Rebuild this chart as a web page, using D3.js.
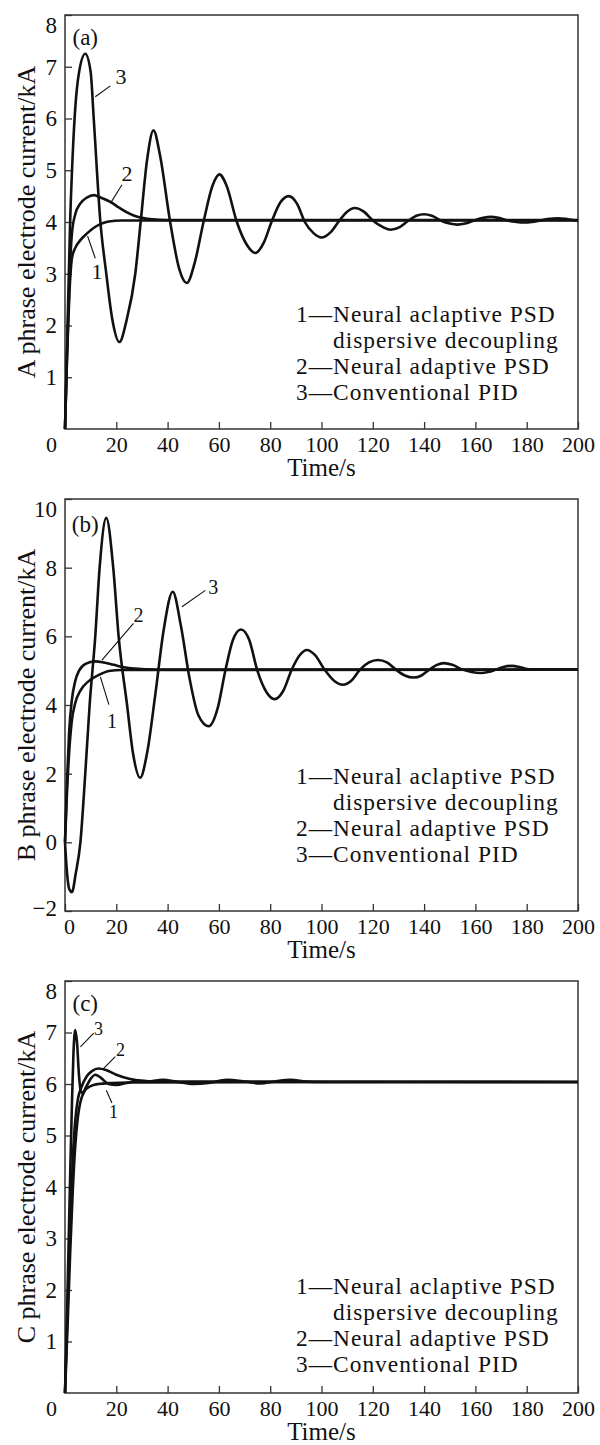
<!DOCTYPE html>
<html>
<head>
<meta charset="utf-8">
<script src="https://cdn.jsdelivr.net/npm/d3@7/dist/d3.min.js"></script>
<style>
  body { margin: 0; background: #fff; }
  text { font-family: "Liberation Serif", "Times New Roman", serif; fill: #111; }
</style>
</head>
<body>
<div id="chart"></div>
<script>
// time axis (s)
const timeTicks = [0, 20, 40, 60, 80, 100, 120, 140, 160, 180, 200];
const yTicksA = [1, 2, 3, 4, 5, 6, 7, 8];
const yTicksB = [-2, 0, 2, 4, 6, 8, 10];
const yTicksC = [1, 2, 3, 4, 5, 6, 7, 8];

const legendLines = [
  ["1", "Neural aclaptive PSD"],
  ["", "dispersive decoupling"],
  ["2", "Neural adaptive PSD"],
  ["3", "Conventional PID"]
];

// (a) A phrase, [t, kA]
const a1 = [[0,0],[0.8,1.4],[1.7,2.6],[2.7,3.3],[4,3.5],[6,3.65],[8.6,3.78],[11,3.88],[13.8,3.96],[17,4.01],[22,4.03],[200,4.03]];
const a2 = [[0,0],[1,1.8],[2,3.2],[2.7,3.78],[4,4.15],[6,4.36],[8.5,4.47],[11.2,4.52],[14,4.47],[17.7,4.39],[21,4.28],[24,4.19],[27,4.12],[30,4.08],[34,4.05],[40,4.04],[200,4.04]];
const a3 = [[0,0],[1,2.0],[2,4.0],[3,5.3],[4,6.2],[5.5,6.9],[7.9,7.25],[10,6.9],[11.2,6.0],[13.8,4.0],[16.1,3.0],[18.5,2.1],[21.2,1.68],[24,2.1],[27.4,3.0],[29.5,4.0],[32,5.2],[34.5,5.77],[37,5.3],[41,4.0],[44.5,3.1],[47.5,2.82],[50.5,3.2],[54,4.0],[57.5,4.7],[60.2,4.92],[63,4.7],[67,4.0],[71,3.55],[74.2,3.4],[77.5,3.6],[80.5,4.0],[84,4.38],[87.2,4.5],[90.5,4.35],[93.5,4.0],[97,3.78],[100,3.7],[103.5,3.8],[107,4.03],[110,4.2],[113,4.27],[116.5,4.2],[120,4.03],[124,3.9],[127,3.85],[130.5,3.9],[134,4.03],[137,4.12],[140,4.15],[143,4.12],[146.5,4.03],[150,3.97],[153,3.95],[156,3.97],[159.5,4.03],[163,4.08],[166,4.1],[169,4.08],[172.5,4.03],[176,4.0],[179,3.99],[182,4.0],[185.5,4.03],[189,4.06],[192,4.07],[195,4.06],[198,4.04],[200,4.03]];

// (b) B phrase
const b1 = [[0,0],[0.8,1.5],[1.6,2.6],[2.6,3.5],[4,4.06],[6,4.42],[9,4.68],[12.5,4.85],[17.7,5.0],[22,5.02],[200,5.03]];
const b2 = [[0,0],[0.8,1.8],[1.6,3.2],[2.6,4.1],[4,4.7],[5.5,5.0],[8,5.2],[11.8,5.27],[15,5.24],[19,5.17],[23,5.1],[27,5.06],[32,5.04],[38,5.03],[200,5.03]];
const b3 = [[0,0],[0.8,-0.9],[1.6,-1.35],[2.7,-1.45],[4.2,-0.9],[6,0.0],[7.9,2.0],[9.6,4.0],[11.8,6.0],[13.5,8.0],[16.1,9.45],[18.8,8.0],[20.9,6.0],[24.2,4.0],[26.5,2.6],[29.3,1.88],[32,2.6],[35.2,4.3],[38.5,6.2],[42,7.3],[45.2,6.3],[48.5,4.8],[52,3.7],[56,3.38],[59.5,3.9],[62.5,5.0],[65.5,5.9],[68.6,6.2],[71.8,5.9],[75,5.0],[78.5,4.38],[81.8,4.17],[85,4.4],[88.5,5.05],[91.5,5.45],[94.3,5.6],[97.5,5.45],[101,5.05],[105,4.7],[108.4,4.59],[111.5,4.7],[115,5.03],[118.5,5.24],[122,5.31],[125.5,5.24],[129,5.03],[132.5,4.86],[136,4.8],[139,4.86],[142,5.03],[145,5.17],[147.6,5.22],[151,5.17],[155,5.03],[158.5,4.96],[162,4.93],[165,4.96],[168,5.03],[171,5.11],[174.3,5.14],[177.5,5.1],[181,5.04],[200,5.03]];

// (c) C phrase
const c1 = [[0,0],[1,1.3],[2,2.7],[3,3.9],[4,4.8],[5,5.35],[6,5.65],[7.5,5.85],[10,5.96],[13,6.0],[18,6.02],[25,6.03],[200,6.04]];
const c2 = [[0,0],[1,1.6],[2,3.2],[3,4.5],[4,5.3],[5,5.7],[6.5,5.95],[8.5,6.15],[10.5,6.25],[13.1,6.3],[16,6.27],[20,6.18],[25,6.1],[30,6.06],[36,6.05],[200,6.04]];
const c3 = [[0,0],[1,2.0],[2,4.2],[2.7,5.6],[3.3,6.6],[4,7.05],[4.7,6.8],[5.4,6.2],[6.1,5.88],[6.8,5.82],[8,5.92],[10,6.1],[11.8,6.18],[14,6.12],[17,6.0],[20,5.98],[24,6.02],[28,6.06],[33,6.05],[38,6.08],[44,6.04],[50,6.0],[56,6.02],[63,6.08],[70,6.05],[76,6.01],[82,6.05],[88,6.08],[94,6.05],[100,6.04],[200,6.04]];

// curve number callouts: [label, labelT, labelV, fromT, fromV, toT, toV]
const notesA = [["3",21.8,6.82,11.8,6.42,17.7,6.63],["2",24.2,4.94,17.7,4.36,22.2,4.72],["1",12.5,3.04,8.8,3.73,11.8,3.3]];
const notesB = [["3",57.8,7.44,45.6,6.86,54.7,7.34],["2",28.7,6.62,14.4,5.31,26.7,6.38],["1",18.3,3.52,13.8,4.82,17.1,4.01]];
const notesC = [["3",13.1,7.08,6.0,6.72,11.2,6.99],["2",21.6,6.66,15.0,6.3,19.6,6.53],["1",18.9,5.46,16.1,5.88,18.3,5.63]];

const W = 600, H = 1445;
const left = 65, right = 578;

const svg = d3.select("#chart").append("svg")
  .attr("width", W).attr("height", H);
svg.append("rect").attr("width", W).attr("height", H).attr("fill", "#fff");

function drawPanel(p) {
  const x = d3.scaleLinear().domain([0, 200]).range([left, right]);
  const y = d3.scaleLinear().domain(p.domain).range([p.bottom, p.top]);
  const g = svg.append("g");

  // x axis, ticks pointing inward
  const gx = g.append("g")
    .attr("transform", "translate(0," + p.bottom + ")")
    .call(d3.axisBottom(x).tickValues(timeTicks).tickSizeInner(-7).tickSizeOuter(0).tickPadding(7));
  gx.select(".domain").remove();
  gx.selectAll("text").style("font-size", "22px").style("font-family", null);
  gx.selectAll("line").attr("stroke", "#333").attr("stroke-width", 1.3);
  gx.selectAll(".tick").filter(d => d === 0).select("text").attr("x", p.zeroShift);

  // y axis
  const gy = g.append("g")
    .attr("transform", "translate(" + left + ",0)")
    .call(d3.axisLeft(y).tickValues(p.yTicks).tickSizeInner(-7).tickSizeOuter(0).tickPadding(8));
  gy.select(".domain").remove();
  gy.selectAll("text").style("font-size", "23px").style("font-family", null);
  gy.selectAll("line").attr("stroke", "#333").attr("stroke-width", 1.3);
  gy.selectAll(".tick").filter(d => d === p.domain[1]).select("text").attr("y", 10);
  gy.selectAll(".tick").filter(d => d === p.domain[0]).select("text").attr("y", -3);

  // frame
  g.append("rect")
    .attr("x", left).attr("y", p.top)
    .attr("width", right - left).attr("height", p.bottom - p.top)
    .attr("fill", "none").attr("stroke", "#333").attr("stroke-width", 1.5);

  // curves
  const line = d3.line().x(d => x(d[0])).y(d => y(d[1])).curve(d3.curveMonotoneX);
  g.selectAll(".curve").data(p.series).enter().append("path")
    .attr("class", "curve")
    .attr("d", line)
    .attr("fill", "none").attr("stroke", "#111")
    .attr("stroke-width", 2.6).attr("stroke-linejoin", "round");

  // callouts
  p.notes.forEach(n => {
    g.append("line")
      .attr("x1", x(n[3])).attr("y1", y(n[4]))
      .attr("x2", x(n[5])).attr("y2", y(n[6]))
      .attr("stroke", "#111").attr("stroke-width", 1.1);
    g.append("text")
      .attr("x", x(n[1])).attr("y", y(n[2])).attr("dy", "0.35em")
      .attr("text-anchor", "middle").style("font-size", p.noteSize + "px")
      .text(n[0]);
  });

  // panel tag
  g.append("text").attr("x", x(p.tag[1])).attr("y", y(p.tag[2])).attr("dy", "0.35em")
    .attr("text-anchor", "middle").style("font-size", "23px").text(p.tag[0]);

  // axis titles
  g.append("text")
    .attr("x", (left + right) / 2).attr("y", p.bottom + 47)
    .attr("text-anchor", "middle").style("font-size", "25px").text("Time/s");
  g.append("text")
    .attr("transform", "translate(35," + (p.top + p.bottom) / 2 + ") rotate(-90)")
    .attr("text-anchor", "middle").style("font-size", "26px").text(p.yTitle);

  // legend, one text per row
  legendLines.forEach((l, i) => {
    g.append("text")
      .attr("x", l[0] ? 296 : 333).attr("y", p.legendY + i * 26)
      .style("font-size", "23.4px").style("letter-spacing", "1px")
      .text(l[0] ? l[0] + "\u2014" + l[1] : l[1]);
  });
}

drawPanel({
  top: 15, bottom: 429, domain: [0, 8], yTicks: yTicksA, zeroShift: -14,
  series: [a1, a2, a3], notes: notesA, noteSize: 22, tag: ["(a)", 7.9, 7.58],
  yTitle: "A phrase electrode current/kA", legendY: 322
});
drawPanel({
  top: 499, bottom: 911, domain: [-2, 10], yTicks: yTicksB, zeroShift: 4,
  series: [b1, b2, b3], notes: notesB, noteSize: 20, tag: ["(b)", 7.9, 9.28],
  yTitle: "B phrase electrode current/kA", legendY: 784
});
drawPanel({
  top: 981, bottom: 1393, domain: [0, 8], yTicks: yTicksC, zeroShift: -14,
  series: [c1, c2, c3], notes: notesC, noteSize: 18, tag: ["(c)", 7.9, 7.57],
  yTitle: "C phrase electrode current/kA", legendY: 1294
});
</script>
</body>
</html>
